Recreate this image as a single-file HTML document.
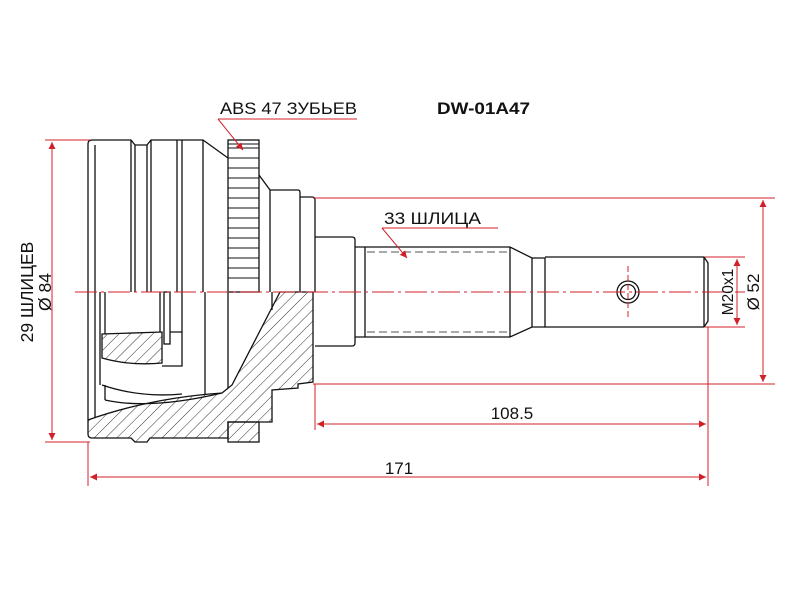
<!DOCTYPE html>
<html><head><meta charset="utf-8"><style>
html,body{margin:0;padding:0;background:#fff;}
svg{display:block;}
text{font-family:"Liberation Sans",Arial,sans-serif;}
</style></head><body>
<svg width="800" height="600" viewBox="0 0 800 600" xmlns="http://www.w3.org/2000/svg">
<defs>
<pattern id="h" patternUnits="userSpaceOnUse" width="8" height="8" patternTransform="rotate(45)">
<line x1="0" y1="0" x2="0" y2="8" stroke="#333" stroke-width="1"/>
</pattern>
<marker id="a" viewBox="0 0 10 10" refX="10" refY="5" markerWidth="9" markerHeight="7" orient="auto-start-reverse" markerUnits="userSpaceOnUse">
<path d="M0,0 L10,5 L0,10 z" fill="#d0202a"/>
</marker>
</defs>
<rect width="800" height="600" fill="#fff"/>

<g fill="none" stroke="#111" stroke-width="1.3">
<path d="M88,292 L88,144 Q88,140 92,140 L131,140 L135,145 L147,145 L151,140 L203,140 L228,158"/>
<line x1="95" y1="145" x2="95" y2="292"/>
<line x1="131" y1="140" x2="131" y2="292"/>
<line x1="135" y1="145" x2="135" y2="292"/>
<line x1="147" y1="145" x2="147" y2="292"/>
<line x1="151" y1="140" x2="151" y2="292"/>
<line x1="177" y1="140" x2="177" y2="292"/>
<line x1="182" y1="140" x2="182" y2="292"/>
<line x1="203" y1="140" x2="203" y2="292"/>
<rect x="228" y="140" width="31" height="152"/>
<path d="M259,175 L270,190 L270,292"/>
<path d="M270,190 L298,190 Q300,190 300,193 L300,292"/>
<path d="M300,197 L312,197 Q315,197 315,200 L315,292"/>
<path d="M315,237 L352,237 Q355,237 355,240 L355,343 Q355,346 352,346 L315,346"/>
<path d="M355,247 L510,247 L532,258 L545,258 L545,327 L532,327 L510,337 L355,337"/>
<line x1="365" y1="247" x2="365" y2="337"/>
<line x1="510" y1="247" x2="510" y2="337"/>
<line x1="532" y1="258" x2="532" y2="327"/>
<path d="M545,257 L704,257 L708,263 L708,321 L704,327 L545,327"/>
<line x1="704" y1="257" x2="704" y2="327"/>
<circle cx="628" cy="292" r="11"/>
<circle cx="628" cy="292" r="7.5"/>
</g>
<g stroke="#111" stroke-width="1">
<line x1="228" y1="144" x2="259" y2="144"/><line x1="228" y1="148" x2="259" y2="148"/>
<line x1="228" y1="158" x2="259" y2="158"/><line x1="228" y1="168" x2="259" y2="168"/>
<line x1="228" y1="178" x2="259" y2="178"/><line x1="228" y1="188" x2="259" y2="188"/>
<line x1="228" y1="198" x2="259" y2="198"/><line x1="228" y1="208" x2="259" y2="208"/>
<line x1="228" y1="218" x2="259" y2="218"/><line x1="228" y1="228" x2="259" y2="228"/>
<line x1="228" y1="238" x2="259" y2="238"/><line x1="228" y1="248" x2="259" y2="248"/>
<line x1="228" y1="258" x2="259" y2="258"/><line x1="228" y1="268" x2="259" y2="268"/>
<line x1="228" y1="278" x2="259" y2="278"/>
</g>
<g stroke="#555" stroke-width="1" stroke-dasharray="8,4">
<line x1="367" y1="252" x2="508" y2="252"/>
<line x1="367" y1="332" x2="508" y2="332"/>
</g>

<g stroke="#111" stroke-width="1.3">
<path fill="url(#h)" d="M88,420 Q150,398 222,393 L232,385 L280,292 L313,292 L313,382 L298,384 L298,388 L272,390 L272,422 L228,422 L228,438 L150,438 L147,442 L135,442 L131,438 L92,438 Q88,438 88,434 Z"/>
<rect x="228" y="422" width="31" height="20" fill="url(#h)"/>
<path fill="url(#h)" d="M102,334 L162,332 L162,363 Q130,366 102,358 Z"/>
<g fill="none">
<line x1="100" y1="292" x2="100" y2="385"/>
<line x1="105" y1="292" x2="105" y2="334"/>
<line x1="160" y1="292" x2="160" y2="332"/>
<rect x="164" y="292" width="6" height="52"/>
<path d="M170,332 L182,332 L182,366 L162,366"/>
<line x1="182" y1="292" x2="182" y2="332"/>
<path d="M102,385 Q140,398 182,394"/>
<path d="M105,400 Q150,410 222,393"/>
<line x1="105" y1="385" x2="105" y2="400"/>
<line x1="205" y1="292" x2="205" y2="395"/>
<line x1="228" y1="292" x2="228" y2="388"/>
<line x1="88" y1="292" x2="88" y2="420"/>
<line x1="95" y1="292" x2="95" y2="418"/>
<line x1="272" y1="292" x2="272" y2="310"/>
</g>
</g>

<g stroke="#d0202a" stroke-width="1" fill="none">
<line x1="75" y1="292" x2="745" y2="292" stroke-dasharray="22,4,3,4"/>
<line x1="628" y1="266" x2="628" y2="318" stroke-dasharray="6,3"/>
<line x1="45" y1="140" x2="90" y2="140"/>
<line x1="45" y1="442" x2="90" y2="442"/>
<line x1="52" y1="142" x2="52" y2="440" marker-start="url(#a)" marker-end="url(#a)"/>
<line x1="313" y1="198" x2="775" y2="198"/>
<line x1="313" y1="384" x2="775" y2="384"/>
<line x1="763" y1="200" x2="763" y2="382" marker-start="url(#a)" marker-end="url(#a)"/>
<line x1="705" y1="257" x2="745" y2="257"/>
<line x1="705" y1="327" x2="745" y2="327"/>
<line x1="737" y1="259" x2="737" y2="325" marker-start="url(#a)" marker-end="url(#a)"/>
<line x1="315" y1="384" x2="315" y2="430"/>
<line x1="708" y1="327" x2="708" y2="486"/>
<line x1="88" y1="442" x2="88" y2="486"/>
<line x1="317" y1="424" x2="706" y2="424" marker-start="url(#a)" marker-end="url(#a)"/>
<line x1="90" y1="477" x2="706" y2="477" marker-start="url(#a)" marker-end="url(#a)"/>
<line x1="218" y1="119" x2="357" y2="119"/>
<line x1="218" y1="119" x2="243" y2="150" marker-end="url(#a)"/>
<line x1="382" y1="228" x2="498" y2="228"/>
<line x1="382" y1="228" x2="407" y2="258" marker-end="url(#a)"/>
</g>

<g fill="#111">
<text x="220" y="114" font-size="17" textLength="137" lengthAdjust="spacingAndGlyphs">ABS 47 ЗУБЬЕВ</text>
<text x="437" y="114" font-size="17" font-weight="bold" textLength="93" lengthAdjust="spacingAndGlyphs">DW-01A47</text>
<text x="384" y="224" font-size="17" textLength="97" lengthAdjust="spacingAndGlyphs">33 ШЛИЦА</text>
<text x="512" y="419" font-size="17" text-anchor="middle">108.5</text>
<text x="399" y="474" font-size="17" text-anchor="middle">171</text>
<text transform="translate(33,292) rotate(-90)" font-size="17.5" text-anchor="middle">29 ШЛИЦЕВ</text>
<text transform="translate(51,292) rotate(-90)" font-size="17.5" text-anchor="middle">Ø 84</text>
<text transform="translate(733,292) rotate(-90)" font-size="15.5" text-anchor="middle">M20x1</text>
<text transform="translate(759,292) rotate(-90)" font-size="17" text-anchor="middle">Ø 52</text>
</g>
</svg>
</body></html>
